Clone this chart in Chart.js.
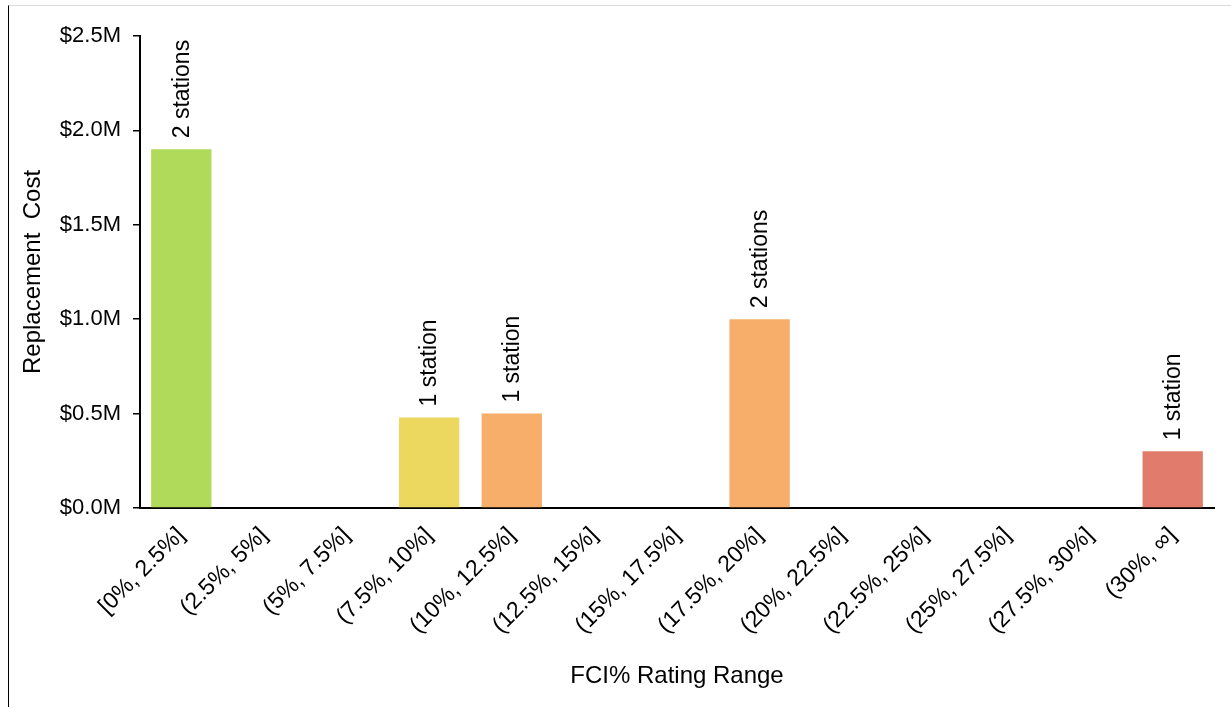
<!DOCTYPE html>
<html>
<head>
<meta charset="utf-8">
<script src="https://cdn.jsdelivr.net/npm/chart.js@4/dist/chart.umd.min.js"></script>
<style>
  html, body { margin: 0; padding: 0; background: #fff; }
  #frame { position: absolute; left: 8px; top: 5px; width: 1223px; height: 702px;
           border-left: 1px solid #000; border-top: 1px solid #dcdcdc; box-sizing: border-box; }
  #wrap { position: absolute; left: 0; top: 0; width: 1231px; height: 707px; }
</style>
</head>
<body>
<div id="frame"></div>
<div id="wrap"><canvas id="c" width="1231" height="707"></canvas></div>
<script>
const categories = ["[0%, 2.5%]", "(2.5%, 5%]", "(5%, 7.5%]", "(7.5%, 10%]", "(10%, 12.5%]", "(12.5%, 15%]",
  "(15%, 17.5%]", "(17.5%, 20%]", "(20%, 22.5%]", "(22.5%, 25%]", "(25%, 27.5%]", "(27.5%, 30%]", "(30%, \u221E]"];
const costMillions = [1.9, 0, 0, 0.48, 0.5, 0, 0, 1.0, 0, 0, 0, 0, 0.3];
const stationCounts = [2, 0, 0, 1, 1, 0, 0, 2, 0, 0, 0, 0, 1];
const barColors = ["#b0db5a", "#b0db5a", "#b0db5a", "#ecd85e", "#f6ae6a", "#f6ae6a", "#f6ae6a", "#f6ae6a",
  "#e17b6b", "#e17b6b", "#e17b6b", "#e17b6b", "#e17b6b"];
const yTicks = [0, 0.5, 1.0, 1.5, 2.0, 2.5];

const FONT = "'Liberation Sans', Arial, sans-serif";

const stationLabels = {
  id: 'stationLabels',
  afterDatasetsDraw(chart) {
    const ctx = chart.ctx;
    const meta = chart.getDatasetMeta(0);
    ctx.save();
    ctx.font = "23px " + FONT;
    ctx.fillStyle = "#000";
    ctx.textAlign = "left";
    ctx.textBaseline = "middle";
    meta.data.forEach((bar, i) => {
      const n = stationCounts[i];
      if (!n) return;
      const txt = n + (n === 1 ? " station" : " stations");
      ctx.save();
      ctx.translate(bar.x + 1, bar.y - 11);
      ctx.rotate(-Math.PI / 2);
      ctx.fillText(txt, 0, 0);
      ctx.restore();
    });
    ctx.restore();
  }
};

new Chart(document.getElementById('c'), {
  type: 'bar',
  data: {
    labels: categories,
    datasets: [{
      data: costMillions,
      backgroundColor: barColors,
      borderWidth: 0,
      categoryPercentage: 1.0,
      barPercentage: 0.73
    }]
  },
  options: {
    responsive: false,
    animation: false,
    devicePixelRatio: 1,
    layout: { padding: { left: 19, top: 36, right: 17, bottom: 0 } },
    plugins: { legend: { display: false }, tooltip: { enabled: false } },
    scales: {
      x: {
        grid: { display: false, drawTicks: false },
        border: { display: true, color: '#000', width: 2 },
        ticks: {
          color: '#000', font: { family: FONT, size: 23 },
          minRotation: 45, maxRotation: 45, padding: 14, autoSkip: false
        },
        title: {
          display: true, text: 'FCI% Rating Range', color: '#000',
          font: { family: FONT, size: 24 }, padding: { top: 8, bottom: 16 }
        },
        afterFit(scale) { scale.height = 199; }
      },
      y: {
        min: 0, max: 2.5,
        afterBuildTicks(scale) { scale.ticks = yTicks.map(v => ({ value: v })); },
        grid: { display: true, drawOnChartArea: false, drawTicks: true, tickLength: 7, color: '#000', lineWidth: 1.5 },
        border: { display: true, color: '#000', width: 2 },
        ticks: {
          color: '#000', font: { family: FONT, size: 22 }, padding: 12,
          callback: (v) => '$' + Number(v).toFixed(1) + 'M'
        },
        title: {
          display: true, text: 'Replacement  Cost', color: '#000',
          font: { family: FONT, size: 24 }, padding: { top: 0, bottom: 10 }
        },
        afterFit(scale) { scale.width = 121; }
      }
    }
  },
  plugins: [stationLabels]
});
</script>
</body>
</html>
